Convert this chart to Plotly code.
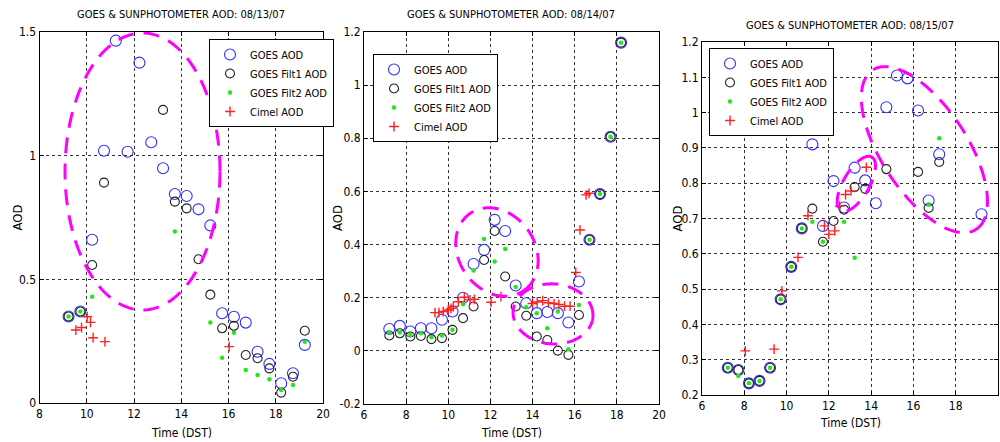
import numpy as np
import plotly.graph_objects as go

# ---------------- data ----------------
# 08/13/07
t1 = [9.23, 9.73, 10.23, 10.73, 11.23, 11.73, 12.23, 12.73, 13.23, 13.73, 14.23,
      14.73, 15.23, 15.73, 16.23, 16.73, 17.23, 17.73, 18.23, 18.73, 19.23]
goes1 = [0.35, 0.37, 0.66, 1.02, 1.465, 1.016, 1.376, 1.054, 0.949, 0.845, 0.837,
         0.783, 0.718, 0.363, 0.349, 0.325, 0.207, 0.158, 0.08, 0.12, 0.235]
filt1_1 = [0.35, 0.37, 0.558, 0.891, None, None, None, None, 1.185, 0.814, 0.787,
           0.581, 0.438, 0.302, 0.312, 0.194, 0.181, 0.14, 0.042, 0.106, 0.292]
filt2_1 = [0.35, 0.37, 0.43, None, None, None, None, None, None, 0.693, None,
           None, 0.325, 0.183, 0.284, 0.133, 0.113, 0.096, 0.053, 0.073, 0.248]
tc1 = [9.54, 9.78, 10.02, 10.16, 10.27, 10.77, 16.03]
cimel1 = [0.295, 0.305, 0.349, 0.326, 0.264, 0.248, 0.228]

# 08/14/07
t2 = [7.2, 7.7, 8.2, 8.7, 9.2, 9.7, 10.2, 10.7, 11.2, 11.7, 12.2, 12.7, 13.2, 13.7,
      14.2, 14.7, 15.2, 15.7, 16.2, 16.7, 17.2, 17.7, 18.2]
goes2 = [0.082, 0.094, 0.073, 0.085, 0.085, 0.117, 0.148, 0.2, 0.327, 0.38, 0.493,
         0.451, 0.246, 0.179, 0.142, 0.146, 0.142, 0.107, 0.261, 0.418, 0.59, 0.806, 1.16]
filt1_2 = [0.058, 0.066, 0.054, 0.056, 0.044, 0.048, 0.079, 0.123, 0.167, 0.342, 0.451,
           0.28, 0.167, 0.132, 0.054, 0.041, 0.001, -0.015, 0.135, 0.418, 0.59, 0.806, 1.16]
filt2_2 = [0.069, 0.069, 0.06, 0.066, 0.051, 0.058, 0.079, 0.175, 0.302, 0.421, 0.336,
           0.383, 0.24, 0.164, 0.142, 0.085, 0.148, 0.006, 0.173, 0.418, 0.59, 0.806, 1.16]
tc2 = [9.37, 9.56, 9.76, 10.0, 10.13, 10.24, 10.48, 10.76, 11.03, 11.24, 12.03, 12.5,
       14.0, 14.22, 14.48, 14.75, 15.02, 15.25, 15.52, 15.78, 16.05, 16.25, 16.54, 16.68]
cimel2 = [0.144, 0.144, 0.148, 0.154, 0.16, 0.167, 0.185, 0.202, 0.192, 0.194, 0.183, 0.204,
          0.178, 0.184, 0.189, 0.181, 0.178, 0.175, 0.168, 0.168, 0.295, 0.455, 0.587, 0.593]

# 08/15/07
t3 = [7.22, 7.72, 8.22, 8.72, 9.22, 9.72, 10.22, 10.72, 11.22, 11.72, 12.22, 12.72, 13.22,
      13.72, 14.22, 14.72, 15.22, 15.72, 16.22, 16.72, 17.22, 17.72, 18.22, 18.72, 19.22]
goes3 = [0.277, 0.271, 0.233, 0.24, 0.277, 0.471, 0.563, 0.672, 0.91, 0.679, 0.806, 0.731,
         0.844, 0.808, 0.743, 1.015, 1.105, 1.097, 1.006, 0.751, 0.882, None, None, None, 0.712]
filt1_3 = [0.277, 0.271, 0.233, 0.24, 0.277, 0.471, 0.563, 0.672, 0.728, 0.634, 0.693, 0.725,
           0.789, 0.784, None, 0.84, None, None, 0.832, 0.73, 0.86, None, None, None, None]
filt2_3 = [0.277, 0.254, 0.233, 0.24, 0.277, 0.471, 0.563, 0.672, 0.691, 0.634, None, 0.691,
           0.589, None, None, None, None, None, None, 0.74, 0.927, None, None, None, None]
tc3 = [8.05, 9.41, 9.78, 10.54, 11.01, 11.79, 12.0, 12.28, 12.51, 12.79, 13.05, 13.77]
cimel3 = [0.325, 0.33, 0.495, 0.59, 0.708, 0.679, 0.655, 0.665, 0.735, 0.768, 0.778, 0.845]

titles = ["GOES & SUNPHOTOMETER AOD: 08/13/07",
          "GOES & SUNPHOTOMETER AOD: 08/14/07",
          "GOES & SUNPHOTOMETER AOD: 08/15/07"]
series_names = ["GOES AOD", "GOES Filt1 AOD", "GOES Filt2 AOD", "Cimel AOD"]
x_title = "Time (DST)"
y_title = "AOD"

x_ranges = [(8, 20), (6, 20), (6, 20)]
y_ranges = [(0, 1.5), (-0.2, 1.2), (0.2, 1.2)]
y_dticks = [0.5, 0.2, 0.1]

# highlighted groups: panel, centre (data), semi-axes (screen px), rotation (deg, ccw)
highlights = [
    (0, 12.36, 0.936, 77.5, 138.5, 0),
    (1, 12.31, 0.372, 47, 38, -55),
    (1, 14.97, 0.139, 40, 30, -4),
    (2, 16.52, 0.895, 95, 43, -57),
    (2, 13.30, 0.798, 31, 13, 60),
]

# ---------------- layout geometry ----------------
W, H = 1000, 442
# plot boxes in pixels: (left, right, top, bottom)
boxes = [(39.5, 323, 32, 403), (364, 659, 32, 404), (702, 998, 42, 395)]
title_y = [14, 15, 25]
xlabel_y = [433, 433, 423]
ylabel_x = [17, 337, 677]
legend_pos = [(209, 39), (373, 54), (709, 48)]
FONT = "DejaVu Sans Condensed, Liberation Sans Narrow, Arial Narrow, Arial, sans-serif"

fig = go.Figure()

panels = [
    (t1, goes1, filt1_1, filt2_1, tc1, cimel1),
    (t2, goes2, filt1_2, filt2_2, tc2, cimel2),
    (t3, goes3, filt1_3, filt2_3, tc3, cimel3),
]

for i, (t, g, f1, f2, tc, cm) in enumerate(panels):
    sfx = "" if i == 0 else str(i + 1)
    xa, ya = "x" + sfx, "y" + sfx
    lg = "legend" + sfx
    fig.add_trace(go.Scatter(x=t, y=g, mode="markers", name=series_names[0],
                             xaxis=xa, yaxis=ya, legend=lg,
                             marker=dict(symbol="circle-open", size=11, color="#3030ff",
                                         line=dict(width=1.1))))
    fig.add_trace(go.Scatter(x=t, y=f1, mode="markers", name=series_names[1],
                             xaxis=xa, yaxis=ya, legend=lg,
                             marker=dict(symbol="circle-open", size=9, color="#222222",
                                         line=dict(width=1.1))))
    fig.add_trace(go.Scatter(x=t, y=f2, mode="markers", name=series_names[2],
                             xaxis=xa, yaxis=ya, legend=lg,
                             marker=dict(symbol="circle", size=4.5, color="#22e622")))
    fig.add_trace(go.Scatter(x=tc, y=cm, mode="markers", name=series_names[3],
                             xaxis=xa, yaxis=ya, legend=lg,
                             marker=dict(symbol="cross-thin-open", size=7, color="#ff2020",
                                         line=dict(width=1.4, color="#ff2020"))))

axis_common = dict(showline=True, linecolor="black", linewidth=1, mirror="ticks",
                   ticks="inside", ticklen=4, tickcolor="black", showgrid=True,
                   gridcolor="#333333", griddash="dot", gridwidth=1, zeroline=False,
                   automargin=False, tickfont=dict(family=FONT, size=12, color="black"))

layout = dict(width=W, height=H, margin=dict(l=0, r=0, t=0, b=0),
              paper_bgcolor="white", plot_bgcolor="white",
              font=dict(family=FONT, size=11, color="black"), annotations=[], shapes=[])

for i, (l, r, tp, bt) in enumerate(boxes):
    sfx = "" if i == 0 else str(i + 1)
    x0, x1 = x_ranges[i]
    y0, y1 = y_ranges[i]
    yvals = list(np.round(np.arange(y0, y1 + 1e-9, y_dticks[i]), 2))
    ytext = ["%g" % v for v in yvals]
    layout["xaxis" + sfx] = dict(axis_common, domain=[l / W, r / W], range=[x0, x1],
                                 dtick=2, tick0=0, anchor="y" + sfx)
    layout["yaxis" + sfx] = dict(axis_common, domain=[1 - bt / H, 1 - tp / H],
                                 range=[y0, y1], tickvals=yvals, ticktext=ytext,
                                 anchor="x" + sfx)
    ann = layout["annotations"]
    ann.append(dict(text=titles[i], x=(l + r) / 2 / W, y=1 - title_y[i] / H,
                    xref="paper", yref="paper", showarrow=False,
                    xanchor="center", yanchor="middle",
                    font=dict(family=FONT, size=11, color="black")))
    ann.append(dict(text=x_title, x=(l + r) / 2 / W, y=1 - xlabel_y[i] / H,
                    xref="paper", yref="paper", showarrow=False,
                    xanchor="center", yanchor="middle",
                    font=dict(family=FONT, size=12, color="black")))
    ann.append(dict(text=y_title, x=ylabel_x[i] / W, y=1 - (tp + bt) / 2 / H,
                    xref="paper", yref="paper", showarrow=False, textangle=-90,
                    xanchor="center", yanchor="middle",
                    font=dict(family=FONT, size=13, color="black")))

for i, (lx, ly) in enumerate(legend_pos):
    sfx = "" if i == 0 else str(i + 1)
    layout["legend" + sfx] = dict(x=lx / W, y=1 - ly / H, xanchor="left", yanchor="top",
                                  bgcolor="white", bordercolor="black", borderwidth=1,
                                  font=dict(family=FONT, size=11, color="black"),
                                  tracegroupgap=0, itemwidth=30)

# dashed highlight ellipses
for (p, cx, cy, a, b, ang) in highlights:
    l, r, tp, bt = boxes[p]
    sx = (r - l) / (x_ranges[p][1] - x_ranges[p][0])
    sy = (bt - tp) / (y_ranges[p][1] - y_ranges[p][0])
    th = np.radians(ang)
    tt = np.linspace(0, 2 * np.pi, 181)
    dx = a * np.cos(tt) * np.cos(th) - b * np.sin(tt) * np.sin(th)
    dy = a * np.cos(tt) * np.sin(th) + b * np.sin(tt) * np.cos(th)
    xs, ys = cx + dx / sx, cy + dy / sy
    path = "M " + " L ".join(f"{x:.4f},{y:.4f}" for x, y in zip(xs, ys)) + " Z"
    sfx = "" if p == 0 else str(p + 1)
    layout["shapes"].append(dict(type="path", path=path, xref="x" + sfx, yref="y" + sfx,
                                 line=dict(color="#ff00ff", width=3, dash="16px,10px"),
                                 layer="above"))

fig.update_layout(**layout)
fig.write_html("out.html")
